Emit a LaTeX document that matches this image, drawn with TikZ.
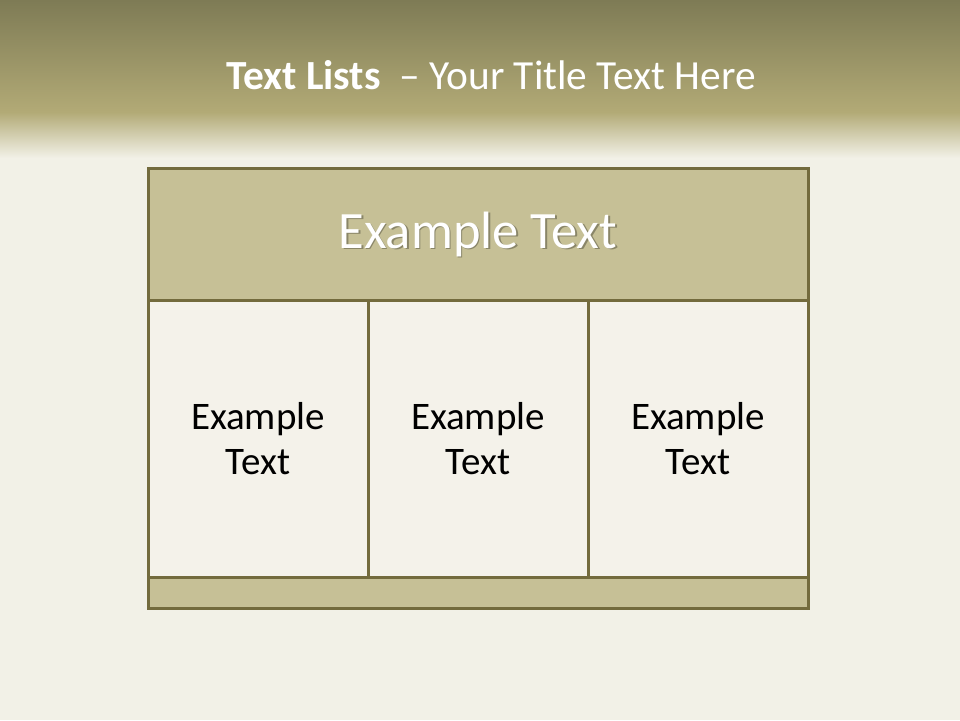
\documentclass[tikz,border=0pt]{standalone}
\usepackage{fontspec}
\setmainfont{Carlito}
\usepackage{xcolor}
\usetikzlibrary{positioning}
\definecolor{colTop}{HTML}{7E7B55}
\definecolor{colBand}{HTML}{B2AA76}
\definecolor{colPaper}{HTML}{F2F1E7}
\definecolor{colHead}{HTML}{C6C096}
\definecolor{colCell}{HTML}{F4F2EA}
\definecolor{colEdge}{HTML}{736B3D}

\begin{document}
\begin{tikzpicture}[
    x=1pt, y=-1pt,
    basebox/.style={
        rectangle, draw=colEdge, line width=3pt,
        outer sep=0pt, inner sep=0pt, align=center
    },
    headbox/.style={basebox, fill=colHead, minimum width=660pt,
        minimum height=132pt},
    cellbox/.style={basebox, fill=colCell, minimum width=220pt,
        minimum height=277pt,
        font=\fontsize{39}{45}\selectfont},
    footbox/.style={basebox, fill=colHead, minimum width=660pt,
        minimum height=31pt},
    headtext/.style={text=white, font=\fontsize{52.5}{60}\selectfont},
    headshadow/.style={headtext, text=black, opacity=0.3},
    titletext/.style={text=white, font=\fontsize{41.4}{48}\selectfont}
]

    % --- BACKGROUND ---
    \fill[colPaper] (0,0) rectangle (960,720);
    \shade[top color=colTop, bottom color=colBand] (0,0) rectangle (960,112);
    \shade[top color=colBand, bottom color=colPaper] (0,112) rectangle (960,158);
    \useasboundingbox (0,0) rectangle (960,720);

    % --- TITLE ---
    \node[titletext] (title) at (491,75)
        {\textbf{Text Lists}\ \ -- Your Title Text Here};

    % --- TABLE ---
    \node[headbox] (header) at (478,234) {};
    \node[cellbox, below right=0pt of header.south west] (cell1)
        {Example\\Text};
    \node[cellbox, right=0pt of cell1] (cell2) {Example\\Text};
    \node[cellbox, right=0pt of cell2] (cell3) {Example\\Text};
    \node[footbox, below=0pt of cell2] (footer) {};

    % header label with its shadow
    \node[headshadow, xshift=1.5pt, yshift=-1.5pt] at (header) {Example Text};
    \node[headtext] (headlabel) at (header) {Example Text};

\end{tikzpicture}
\end{document}
